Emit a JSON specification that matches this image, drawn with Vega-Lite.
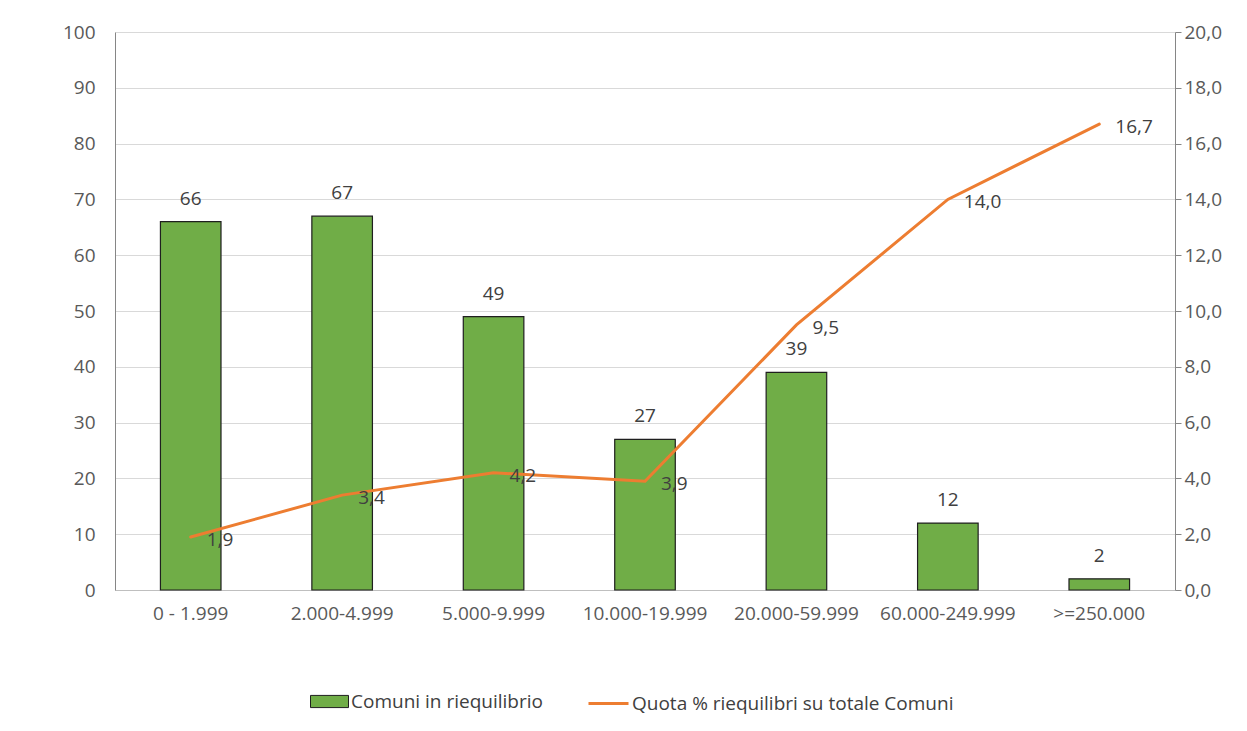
{
  "$schema": "https://vega.github.io/schema/vega-lite/v6.json",
  "width": 1060,
  "height": 558,
  "autosize": {"type": "none"},
  "padding": {"left": 115, "top": 32, "right": 72, "bottom": 141},
  "background": "white",
  "config": {
    "font": "Open Sans",
    "view": {"stroke": null},
    "locale": {"number": {"decimal": ",", "thousands": ".", "grouping": [3], "currency": ["€", ""]}},
    "axis": {"labelFont": "Open Sans", "labelFontSize": 19, "labelColor": "#595959", "domainColor": "#a6a6a6", "gridColor": "#d9d9d9", "tickColor": "#868686"},
    "legend": {"labelFont": "Open Sans", "labelFontSize": 19, "labelColor": "#404040", "labelLimit": 0}
  },
  "data": {"values": [
    {"fascia": "0 - 1.999", "comuni": 66, "quota": 1.9},
    {"fascia": "2.000-4.999", "comuni": 67, "quota": 3.4},
    {"fascia": "5.000-9.999", "comuni": 49, "quota": 4.2},
    {"fascia": "10.000-19.999", "comuni": 27, "quota": 3.9},
    {"fascia": "20.000-59.999", "comuni": 39, "quota": 9.5},
    {"fascia": "60.000-249.999", "comuni": 12, "quota": 14.0},
    {"fascia": ">=250.000", "comuni": 2, "quota": 16.7}
  ]},
  "encoding": {
    "x": {"field": "fascia", "type": "nominal", "sort": null,
      "scale": {"paddingInner": 0.6, "paddingOuter": 0.3},
      "axis": {"title": null, "labelAngle": 0, "ticks": false, "labelPadding": 14, "domainColor": "#bfbfbf"}}
  },
  "layer": [
    {
      "layer": [
        {
          "mark": {"type": "bar", "stroke": "#1f1f1f", "strokeWidth": 1.2},
          "encoding": {
            "y": {"field": "comuni", "type": "quantitative",
              "scale": {"domain": [0, 100], "nice": false},
              "axis": {"title": null, "values": [0,10,20,30,40,50,60,70,80,90,100], "ticks": false, "labelPadding": 20, "domainColor": "#868686", "grid": true}},
            "fill": {"datum": "Comuni in riequilibrio", "type": "nominal",
              "scale": {"range": ["#70AD47"]},
              "legend": {"title": null, "orient": "none", "legendX": 195, "legendY": 650,
                "symbolType": "M-1,-0.32H1V0.32H-1Z", "symbolSize": 1444, "symbolStrokeColor": "#1f1f1f", "symbolStrokeWidth": 1, "labelOffset": 2}}
          }
        },
        {
          "mark": {"type": "text", "baseline": "bottom", "dy": -13, "fontSize": 19, "color": "#404040"},
          "encoding": {
            "y": {"field": "comuni", "type": "quantitative"},
            "text": {"field": "comuni", "type": "quantitative"}
          }
        }
      ]
    },
    {
      "layer": [
        {
          "mark": {"type": "line", "strokeWidth": 3, "strokeCap": "round"},
          "encoding": {
            "y": {"field": "quota", "type": "quantitative",
              "scale": {"domain": [0, 20], "nice": false},
              "axis": {"title": null, "orient": "right", "values": [0,2,4,6,8,10,12,14,16,18,20], "format": ".1f", "grid": false, "tickSize": 6, "labelPadding": 3, "domainColor": "#868686"}},
            "stroke": {"datum": "Quota % riequilibri su totale Comuni", "type": "nominal",
              "scale": {"range": ["#ED7D31"]},
              "legend": {"title": null, "orient": "none", "legendX": 472, "legendY": 650,
                "symbolType": "stroke", "symbolSize": 1600, "symbolStrokeWidth": 3, "labelOffset": 2}}
          }
        },
        {
          "mark": {"type": "text", "align": "left", "baseline": "middle", "dx": 16, "dy": 3, "fontSize": 19, "color": "#404040"},
          "encoding": {
            "y": {"field": "quota", "type": "quantitative"},
            "text": {"field": "quota", "type": "quantitative", "format": ".1f"}
          }
        }
      ]
    }
  ],
  "resolve": {"scale": {"y": "independent", "fill": "independent", "stroke": "independent"}}
}
